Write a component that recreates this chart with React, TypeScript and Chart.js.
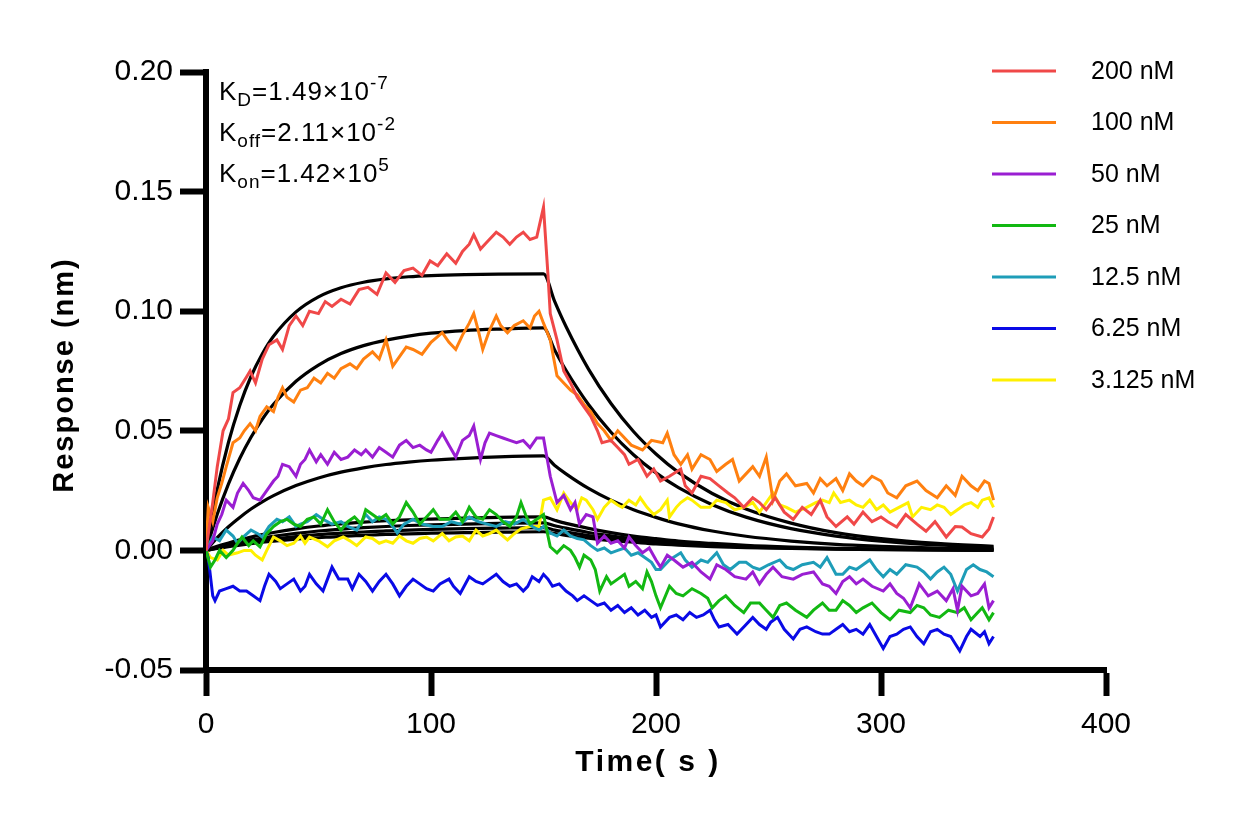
import React, { useEffect, useRef } from "react";
import { Chart, registerables } from "chart.js";

Chart.register(...registerables);

// ---------- data (time s, response nm) ----------
const seriesLabels = ["200 nM", "100 nM", "50 nM", "25 nM", "12.5 nM", "6.25 nM", "3.125 nM"];
const seriesColors = ["#F04848", "#FF8010", "#9A1ED2", "#12B812", "#1E9DB8", "#0A0AE6", "#FFF000"];

const curve200: [number, number][] = [
  [0,0],[3,0.02],[5,0.035],[7.6,0.05],[10,0.055],[12,0.066],[15,0.068],[18,0.0725],[19.6,0.075],[22,0.07],[25,0.08],[28,0.086],[31.5,0.088],[34,0.084],[37,0.094],[40,0.098],[43,0.094],[46,0.1],[50,0.099],[53,0.104],[56,0.102],[60,0.105],[64,0.103],[68,0.109],[72,0.11],[76,0.107],[80,0.116],[84,0.112],[88,0.117],[92,0.118],[96,0.115],[99.6,0.121],[103,0.119],[107,0.124],[111,0.12],[114,0.125],[117,0.128],[119,0.132],[122,0.126],[125,0.129],[129,0.133],[132,0.131],[135,0.128],[138,0.131],[141,0.133],[144,0.13],[147,0.131],[150,0.1435],[152,0.115],[153,0.099],[156,0.088],[159,0.075],[162,0.07],[165,0.064],[168,0.06],[171,0.056],[174,0.05],[176,0.045],[180,0.046],[183,0.043],[186,0.04],[188,0.036],[192,0.038],[196,0.031],[199,0.034],[202,0.029],[206,0.031],[211,0.034],[213,0.027],[216,0.024],[220,0.031],[224,0.03],[228,0.027],[232,0.024],[235,0.022],[239,0.018],[243,0.022],[246,0.02],[249,0.017],[253,0.022],[257,0.016],[261,0.013],[265,0.018],[269,0.015],[273,0.021],[276,0.014],[280,0.01],[285,0.014],[288,0.011],[292,0.016],[296,0.012],[300,0.014],[303,0.012],[307,0.0098],[311,0.015],[316,0.011],[320,0.008],[324,0.012],[329,0.0056],[333,0.01],[336,0.0098],[340,0.007],[345,0.0056],[348,0.009],[350,0.014]
];
const curve100: [number, number][] = [
  [0,0],[1,0.018],[3,0.012],[5,0.022],[7,0.028],[9,0.035],[12,0.045],[15,0.047],[17,0.05],[19.6,0.053],[22,0.05],[24,0.056],[27,0.06],[30,0.058],[32,0.064],[34,0.068],[36,0.064],[39,0.062],[42,0.067],[45,0.068],[48,0.072],[51,0.07],[54,0.074],[57,0.072],[60,0.076],[64,0.078],[67,0.076],[70,0.08],[74,0.083],[77,0.08],[80,0.088],[83,0.077],[86,0.081],[89,0.085],[92,0.084],[96,0.082],[100,0.087],[105,0.091],[108,0.087],[111,0.084],[114,0.09],[117,0.095],[119,0.099],[121,0.092],[123,0.084],[126,0.092],[129,0.098],[131,0.094],[134,0.091],[137,0.094],[141,0.096],[144,0.093],[146,0.098],[148,0.1],[150,0.095],[153,0.088],[156,0.073],[159,0.07],[162,0.067],[165,0.065],[168,0.061],[171,0.058],[174,0.053],[177,0.05],[180,0.046],[183,0.05],[185,0.048],[189,0.044],[194,0.042],[198,0.046],[203,0.045],[205,0.049],[208,0.04],[211,0.036],[214,0.04],[216,0.034],[220,0.04],[224,0.038],[227,0.033],[231,0.036],[234,0.038],[237,0.029],[240,0.032],[243,0.035],[246,0.031],[249,0.039],[252,0.021],[255,0.029],[258,0.032],[262,0.027],[267,0.028],[270,0.024],[273,0.03],[276,0.027],[280,0.03],[283,0.025],[286,0.032],[289,0.029],[292,0.027],[296,0.031],[300,0.029],[303,0.024],[307,0.022],[311,0.027],[316,0.029],[320,0.025],[325,0.022],[329,0.027],[333,0.023],[336,0.031],[340,0.027],[343,0.025],[346,0.029],[348,0.028],[350,0.021]
];
const curve50: [number, number][] = [
  [0,0],[3,0.004],[5,0.011],[7,0.015],[9,0.021],[12,0.018],[14,0.024],[16.5,0.028],[19,0.025],[21,0.022],[24,0.021],[27,0.025],[30,0.029],[32,0.031],[34,0.036],[37,0.035],[40,0.031],[42,0.036],[44,0.038],[46,0.042],[49,0.037],[51,0.04],[54,0.036],[57,0.041],[60,0.038],[63,0.039],[66,0.042],[69,0.04],[71,0.042],[74,0.039],[77,0.043],[80,0.041],[83,0.039],[86,0.044],[89,0.046],[92,0.043],[95,0.044],[98,0.042],[100,0.041],[103,0.046],[105,0.049],[108,0.044],[111,0.039],[114,0.046],[117,0.048],[119,0.052],[122,0.038],[124,0.045],[126,0.049],[129,0.048],[132,0.047],[135,0.046],[138,0.045],[141,0.046],[144,0.043],[147,0.047],[150,0.047],[153,0.031],[156,0.02],[159,0.023],[162,0.017],[164,0.02],[166,0.011],[169,0.015],[172,0.014],[174,0.003],[177,0.006],[180,0.003],[183,0.004],[186,0.001],[188,0.0056],[191,0.002],[194,-0.001],[197,0.001],[200,-0.004],[202,-0.007],[205,-0.002],[208,-0.004],[212,-0.007],[216,-0.005],[220,-0.009],[224,-0.012],[227,-0.006],[231,-0.008],[235,-0.011],[240,-0.012],[243,-0.009],[246,-0.014],[249,-0.01],[252,-0.007],[256,-0.011],[261,-0.012],[265,-0.01],[270,-0.009],[274,-0.014],[277,-0.015],[280,-0.018],[283,-0.013],[286,-0.011],[289,-0.014],[292,-0.012],[296,-0.015],[301,-0.017],[304,-0.014],[307,-0.018],[310,-0.02],[313,-0.024],[317,-0.014],[321,-0.019],[325,-0.017],[329,-0.021],[332,-0.016],[334,-0.025],[336,-0.015],[340,-0.019],[343,-0.018],[346,-0.014],[348,-0.024],[350,-0.021]
];
const curve25: [number, number][] = [
  [0,0],[2,-0.007],[4,-0.004],[6,0],[9,-0.003],[12,0],[14,0.003],[16,0.0056],[19,0.002],[21,0.004],[24,0.0015],[27,0.007],[30,0.01],[33,0.012],[36,0.013],[39,0.011],[42,0.01],[45,0.013],[48,0.014],[51,0.011],[54,0.017],[57,0.012],[60,0.0085],[63,0.012],[66,0.014],[69,0.011],[71,0.017],[74,0.015],[77,0.013],[80,0.015],[83,0.011],[86,0.014],[89,0.02],[92,0.016],[95,0.011],[98,0.014],[101,0.017],[104,0.013],[108,0.013],[111,0.016],[114,0.012],[117,0.018],[120,0.014],[123,0.013],[126,0.017],[129,0.015],[132,0.012],[135,0.01],[138,0.014],[140,0.02],[142,0.015],[144,0.011],[147,0.013],[150,0.015],[153,0.0015],[156,-0.001],[159,0.002],[162,0],[164,-0.003],[166,-0.007],[168,-0.002],[171,-0.004],[173,-0.008],[175,-0.017],[178,-0.011],[180,-0.014],[183,-0.012],[186,-0.01],[188,-0.015],[191,-0.013],[194,-0.016],[196,-0.009],[198,-0.013],[200,-0.019],[202,-0.024],[206,-0.015],[209,-0.018],[212,-0.019],[216,-0.016],[220,-0.018],[223,-0.02],[225,-0.024],[228,-0.021],[231,-0.019],[235,-0.023],[239,-0.026],[242,-0.022],[246,-0.022],[249,-0.025],[252,-0.028],[255,-0.023],[258,-0.022],[262,-0.025],[267,-0.028],[270,-0.025],[274,-0.022],[277,-0.025],[280,-0.025],[283,-0.021],[286,-0.023],[289,-0.026],[292,-0.024],[296,-0.022],[300,-0.026],[304,-0.029],[308,-0.025],[313,-0.026],[316,-0.023],[319,-0.024],[322,-0.027],[326,-0.028],[330,-0.025],[334,-0.026],[337,-0.024],[340,-0.029],[343,-0.026],[345,-0.024],[348,-0.029],[350,-0.026]
];
const curve12: [number, number][] = [
  [0,0],[3,0.0056],[6,0.004],[9,0.0085],[12,0.006],[14,0.003],[17,0.006],[20,0.0085],[23,0.007],[25,0.0056],[28,0.01],[31.5,0.013],[34,0.012],[37,0.014],[40,0.01],[42,0.011],[45,0.012],[49,0.015],[52,0.013],[56,0.011],[60,0.012],[63,0.01],[67,0.0085],[71,0.015],[74,0.012],[77,0.014],[80,0.013],[83,0.01],[85,0.0073],[88,0.011],[92,0.013],[96,0.011],[101,0.01],[105,0.01],[109,0.012],[113,0.011],[117,0.014],[121,0.012],[125,0.011],[129,0.01],[133,0.012],[137,0.011],[141,0.013],[145,0.01],[148,0.0085],[150,0.01],[153,0.0073],[156,0.006],[159,0.0085],[162,0.006],[165,0.005],[168,0.0044],[171,0.002],[174,0],[177,0.001],[180,-0.001],[183,0],[186,0.001],[189,-0.002],[192,-0.001],[195,-0.003],[198,-0.005],[200,-0.008],[202,-0.008],[206,-0.004],[211,-0.001],[213,-0.004],[216,-0.007],[220,-0.004],[223,-0.005],[227,-0.001],[230,-0.006],[233,-0.008],[237,-0.005],[240,-0.005],[243,-0.007],[246,-0.008],[250,-0.006],[255,-0.004],[258,-0.007],[261,-0.008],[265,-0.006],[270,-0.005],[273,-0.007],[276,-0.003],[280,-0.01],[283,-0.01],[286,-0.007],[289,-0.008],[292,-0.006],[295,-0.004],[298,-0.008],[301,-0.011],[304,-0.008],[307,-0.01],[311,-0.006],[316,-0.007],[319,-0.009],[322,-0.012],[325,-0.009],[328,-0.007],[331,-0.01],[334,-0.017],[338,-0.008],[341,-0.006],[344,-0.008],[347,-0.009],[350,-0.011]
];
const curve6: [number, number][] = [
  [0,0],[1,-0.003],[3,-0.019],[4,-0.021],[6,-0.017],[9,-0.016],[12,-0.015],[15,-0.017],[18,-0.017],[21,-0.019],[24,-0.021],[26,-0.015],[28,-0.01],[31,-0.013],[33,-0.016],[36,-0.014],[39,-0.012],[42,-0.017],[44,-0.015],[46,-0.01],[49,-0.014],[52,-0.017],[54,-0.012],[56,-0.007],[59,-0.012],[63,-0.012],[65,-0.016],[68,-0.01],[71,-0.013],[74,-0.017],[77,-0.013],[80,-0.01],[83,-0.014],[86,-0.019],[89,-0.015],[92,-0.012],[95,-0.014],[98,-0.016],[101,-0.017],[104,-0.014],[108,-0.012],[110,-0.015],[113,-0.018],[117,-0.011],[120,-0.013],[123,-0.014],[126,-0.012],[129,-0.01],[132,-0.013],[135,-0.015],[138,-0.014],[141,-0.017],[143,-0.015],[145,-0.011],[148,-0.013],[150,-0.01],[152,-0.012],[154,-0.015],[157,-0.014],[160,-0.017],[163,-0.019],[165,-0.021],[168,-0.019],[171,-0.021],[174,-0.023],[177,-0.022],[180,-0.025],[183,-0.023],[186,-0.026],[189,-0.024],[192,-0.027],[195,-0.025],[198,-0.028],[200,-0.027],[202,-0.032],[206,-0.028],[209,-0.027],[212,-0.029],[215,-0.026],[218,-0.028],[221,-0.027],[224,-0.025],[226,-0.029],[228,-0.032],[232,-0.031],[236,-0.035],[239,-0.032],[243,-0.028],[246,-0.031],[249,-0.033],[251,-0.03],[254,-0.028],[257,-0.033],[261,-0.037],[264,-0.033],[267,-0.032],[271,-0.034],[274,-0.035],[277,-0.035],[280,-0.033],[283,-0.031],[286,-0.034],[289,-0.033],[292,-0.035],[295,-0.031],[298,-0.036],[301,-0.041],[304,-0.036],[307,-0.035],[310,-0.033],[313,-0.032],[316,-0.036],[319,-0.039],[322,-0.034],[325,-0.033],[328,-0.035],[331,-0.036],[333,-0.039],[335,-0.042],[338,-0.036],[340,-0.033],[344,-0.036],[346,-0.034],[348,-0.039],[350,-0.036]
];
const curve3: [number, number][] = [
  [0,0],[2,-0.003],[5,-0.004],[7.6,0],[10,-0.002],[14,-0.001],[17,0],[20,0],[22,-0.002],[25,-0.004],[27,0],[30,0.0056],[33,0.004],[36,0.002],[39,0.003],[42,0.006],[44,0.003],[46,0.0056],[50,0.004],[54,0.0015],[57,0.004],[61,0.0056],[64,0.004],[67,0.002],[71,0.0056],[74,0.005],[77,0.003],[80,0.004],[83,0.003],[86,0.006],[89,0.004],[92,0.003],[95,0.005],[98,0.0056],[101,0.004],[105,0.007],[108,0.004],[111,0.0056],[114,0.006],[117,0.004],[120,0.0085],[123,0.006],[126,0.007],[129,0.0085],[132,0.006],[134,0.0044],[137,0.007],[140,0.009],[144,0.01],[148,0.01],[150,0.021],[153,0.022],[156,0.017],[159,0.024],[162,0.02],[165,0.017],[167,0.022],[169,0.021],[172,0.017],[174,0.013],[177,0.018],[180,0.021],[183,0.019],[185,0.018],[188,0.021],[191,0.019],[193,0.022],[196,0.018],[199,0.015],[202,0.017],[205,0.021],[206,0.014],[209,0.018],[211,0.02],[214,0.022],[216,0.021],[220,0.018],[224,0.018],[227,0.021],[231,0.02],[235,0.017],[239,0.018],[243,0.02],[246,0.016],[249,0.02],[252,0.024],[255,0.019],[258,0.018],[262,0.016],[267,0.018],[271,0.02],[274,0.021],[277,0.02],[279,0.024],[282,0.02],[286,0.021],[289,0.019],[292,0.018],[295,0.021],[298,0.017],[301,0.019],[304,0.016],[308,0.018],[312,0.02],[314,0.014],[318,0.018],[322,0.017],[325,0.019],[328,0.018],[331,0.015],[334,0.017],[337,0.019],[340,0.02],[343,0.018],[345,0.021],[348,0.022],[350,0.018]
];

// fitted 1:1 curves (black), sampled at fitTimes
const fitTimes = [0,5,10,15,20,25,30,40,50,60,70,80,90,100,115,130,150,155,160,170,180,190,200,210,225,240,260,280,300,325,350];
const fit200 = [0,0.0254,0.0452,0.0606,0.0727,0.0821,0.0895,0.0997,0.106,0.1098,0.1121,0.1135,0.1144,0.1149,0.1153,0.1155,0.1156,0.104,0.0936,0.0758,0.0614,0.0497,0.0403,0.0326,0.0238,0.0173,0.0114,0.0074,0.0049,0.0029,0.0017];
const fit100 = [0,0.0151,0.0278,0.0384,0.0473,0.0548,0.0611,0.0707,0.0775,0.0823,0.0856,0.0879,0.0896,0.0908,0.0919,0.0925,0.093,0.0837,0.0753,0.061,0.0494,0.04,0.0324,0.0262,0.0191,0.0139,0.0091,0.006,0.0039,0.0023,0.0014];
const fit50 = [0,0.0053,0.0099,0.0138,0.0173,0.0203,0.0229,0.0271,0.0303,0.0327,0.0345,0.0359,0.0369,0.0377,0.0385,0.0391,0.0395,0.0355,0.032,0.0259,0.021,0.017,0.0138,0.0111,0.0081,0.0059,0.0039,0.0025,0.0017,0.001,0.0006];
const fit25 = [0,0.0017,0.0031,0.0044,0.0056,0.0066,0.0075,0.009,0.0102,0.0111,0.0118,0.0124,0.0128,0.0131,0.0135,0.0138,0.014,0.0126,0.0113,0.0092,0.0074,0.006,0.0049,0.0039,0.0029,0.0021,0.0014,0.0009,0.0006,0.0003,0.0002];
const fit12 = [0,0.0013,0.0024,0.0035,0.0044,0.0052,0.0059,0.0071,0.0081,0.0089,0.0095,0.01,0.0104,0.0107,0.011,0.0113,0.0115,0.0103,0.0093,0.0075,0.0061,0.0049,0.004,0.0032,0.0024,0.0017,0.0011,0.0007,0.0005,0.0003,0.0002];
const fit6 = [0,0.001,0.0019,0.0028,0.0035,0.0042,0.0048,0.0058,0.0066,0.0072,0.0077,0.0082,0.0085,0.0088,0.0091,0.0093,0.0095,0.0085,0.0077,0.0062,0.005,0.0041,0.0033,0.0027,0.002,0.0014,0.0009,0.0006,0.0004,0.0002,0.0001];
const fit3 = [0,0.0008,0.0016,0.0022,0.0028,0.0034,0.0039,0.0047,0.0053,0.0059,0.0063,0.0067,0.0069,0.0072,0.0074,0.0076,0.0078,0.007,0.0063,0.0051,0.0041,0.0034,0.0027,0.0022,0.0016,0.0012,0.0008,0.0005,0.0003,0.0002,0.0001];

const xTicks = [0, 100, 200, 300, 400];
const yTicks = [-0.05, 0, 0.05, 0.1, 0.15, 0.2];
const kineticRows: [string, string, string][] = [
  ["D", "=1.49×10", "-7"],
  ["off", "=2.11×10", "-2"],
  ["on", "=1.42×10", "5"],
];

const FONT = "'Liberation Sans', Arial, Helvetica, sans-serif";

const curves = [curve200, curve100, curve50, curve25, curve12, curve6, curve3];
const fits = [fit200, fit100, fit50, fit25, fit12, fit6, fit3];

const overlayPlugin = {
  id: "overlay",
  afterDraw(chart: any) {
    const ctx = chart.ctx as CanvasRenderingContext2D;
    const area = chart.chartArea;
    ctx.save();
    ctx.fillStyle = "#000";
    // axis titles
    (ctx as any).letterSpacing = "2.5px";
    ctx.font = `bold 30px ${FONT}`;
    ctx.textAlign = "center";
    ctx.textBaseline = "alphabetic";
    ctx.fillText("Time( s )", (area.left + area.right) / 2 - 8, 771);
    ctx.save();
    (ctx as any).letterSpacing = "2px";
    ctx.font = `bold 29px ${FONT}`;
    ctx.translate(73, (area.top + area.bottom) / 2 + 4);
    ctx.rotate(-Math.PI / 2);
    ctx.fillText("Response (nm)", 0, 0);
    ctx.restore();

    // kinetic constants
    (ctx as any).letterSpacing = "1px";
    ctx.textAlign = "left";
    kineticRows.forEach((row, i) => {
      const base = area.top + 28 + i * 40.8;
      let x = area.left + 13;
      ctx.font = `26px ${FONT}`;
      ctx.fillText("K", x, base);
      x += ctx.measureText("K").width;
      ctx.font = `19px ${FONT}`;
      ctx.fillText(row[0], x, base + 6);
      x += ctx.measureText(row[0]).width;
      ctx.font = `26px ${FONT}`;
      ctx.fillText(row[1], x, base);
      x += ctx.measureText(row[1]).width;
      ctx.font = `19px ${FONT}`;
      ctx.fillText(row[2], x, base - 11);
    });

    // legend
    (ctx as any).letterSpacing = "0px";
    ctx.font = `25px ${FONT}`;
    ctx.textBaseline = "middle";
    seriesLabels.forEach((lab, i) => {
      const y = 71 + i * 51.5;
      ctx.strokeStyle = seriesColors[i];
      ctx.lineWidth = 3;
      ctx.beginPath();
      ctx.moveTo(992, y);
      ctx.lineTo(1056, y);
      ctx.stroke();
      ctx.fillStyle = "#000";
      ctx.fillText(lab, 1091, y + 1);
    });
    ctx.restore();
  },
};

export default function App() {
  const ref = useRef<HTMLCanvasElement | null>(null);
  useEffect(() => {
    if (!ref.current) return;
    const dataSets: any[] = curves.map((c, i) => ({
      label: seriesLabels[i],
      data: c.map(([x, y]) => ({ x, y })),
      borderColor: seriesColors[i],
      borderWidth: 3,
      pointRadius: 0,
      tension: 0,
      fill: false,
    }));
    fits.forEach((f, i) => {
      dataSets.push({
        label: "fit " + seriesLabels[i],
        data: f.map((y, k) => ({ x: fitTimes[k], y })),
        borderColor: "#000",
        borderWidth: 3.2,
        pointRadius: 0,
        cubicInterpolationMode: "monotone",
        fill: false,
      });
    });
    const chart = new Chart(ref.current, {
      type: "line",
      data: { datasets: dataSets },
      options: {
        animation: false,
        responsive: false,
        maintainAspectRatio: false,
        layout: { padding: { left: 0, top: 72, right: 131, bottom: 0 } },
        plugins: { legend: { display: false }, tooltip: { enabled: false } },
        scales: {
          x: {
            type: "linear",
            min: 0,
            max: 400,
            afterFit: (s: any) => { s.height = 155; },
            afterBuildTicks: (s: any) => { s.ticks = xTicks.map((v) => ({ value: v })); },
            grid: { display: true, drawOnChartArea: false, drawTicks: true, tickLength: 26, tickWidth: 6, tickColor: "#000" },
            border: { display: true, width: 6, color: "#000" },
            ticks: { color: "#000", font: { size: 30, family: FONT }, padding: 11, maxRotation: 0 },
          },
          y: {
            type: "linear",
            min: -0.05,
            max: 0.2,
            afterFit: (s: any) => { s.width = 206; },
            afterBuildTicks: (s: any) => { s.ticks = yTicks.map((v) => ({ value: v })); },
            grid: { display: true, drawOnChartArea: false, drawTicks: true, tickLength: 26, tickWidth: 6, tickColor: "#000" },
            border: { display: true, width: 6, color: "#000" },
            ticks: {
              color: "#000",
              font: { size: 30, family: FONT },
              padding: 7,
              callback: (v: any) => Number(v).toFixed(2),
            },
          },
        },
      },
      plugins: [overlayPlugin],
    } as any);
    return () => chart.destroy();
  }, []);
  return (
    <div style={{ position: "fixed", left: 0, top: 0, width: 1237, height: 825, background: "#fff" }}>
      <canvas ref={ref} width={1237} height={825} style={{ width: 1237, height: 825, display: "block" }} />
    </div>
  );
}
